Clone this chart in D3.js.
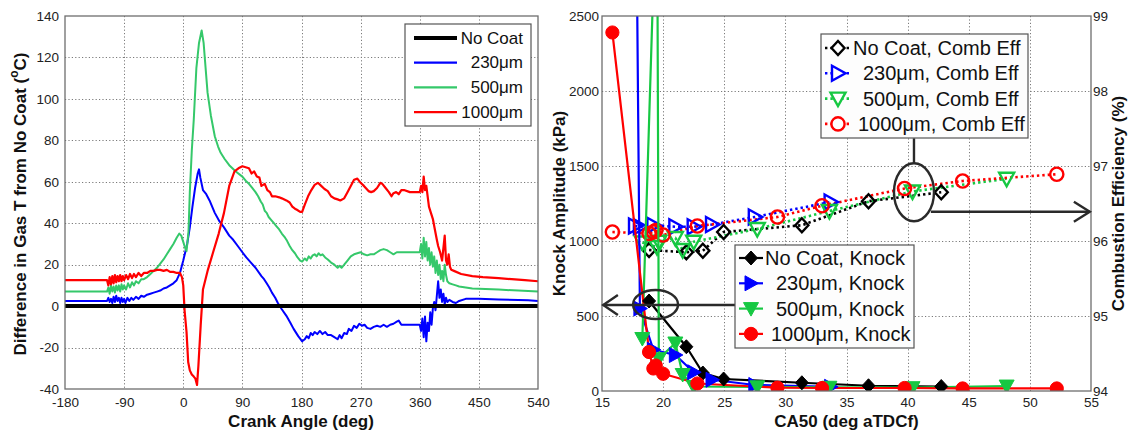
<!DOCTYPE html>
<html><head><meta charset="utf-8">
<script src="https://cdn.jsdelivr.net/npm/d3@7"></script>
<style>
html,body{margin:0;padding:0;background:#fff;}
svg{display:block;font-family:"Liberation Sans",Arial,Helvetica,sans-serif;}
</style></head><body>
<svg id="fig" width="1130" height="431"></svg>
<script>
// ---------- Left panel: gas temperature difference vs crank angle ----------
const angleTicks = [-180, -90, 0, 90, 180, 270, 360, 450, 540];
const dTempTicks = [-40, -20, 0, 20, 40, 60, 80, 100, 120, 140];
const coatNames = ["No Coat", "230\u03bcm", "500\u03bcm", "1000\u03bcm"];

const dT_noCoat = [[-180, 0], [540, 0]];

const dT_230 = [[-180,2.5],[-116,2.5],[-114,4],[-112,2],[-110,3.5],[-108,1.5],[-106,4.5],[-104,2],[-102,5],[-100,2.5],[-98,4],[-96,1.5],[-94,4],[-92,2],[-90,3.5],[-88,1.5],[-85,4],[-82,2.5],[-79,4],[-76,3],[-72,4.5],[-68,3.5],[-64,5],[-60,4.5],[-55,5.5],[-50,6],[-45,6.5],[-40,7],[-35,7.5],[-30,8.5],[-25,9],[-20,10],[-15,11],[-10,12.5],[-5,16],[0,22],[3,26],[6,30],[10,38],[14,48],[18,57],[22,64],[24,66],[26,62],[30,56],[35,54],[40,51],[48,45],[55,41],[62,38],[70,34],[76,32],[83,29],[90,26],[96,23.5],[103,21],[110,18.5],[119,14.5],[123,13],[127,11],[131,9],[135,6.5],[140,4],[144,1.5],[150,-1.5],[157,-4.7],[163,-8],[168,-11],[175,-14.5],[181,-17],[185,-16],[188,-14.5],[191,-15.5],[194,-13],[197,-14],[200,-12.5],[204,-13.5],[208,-12],[212,-13.5],[216,-12.5],[220,-14],[225,-14],[230,-15],[235,-16],[238,-14],[241,-15.5],[245,-13],[249,-13.5],[252,-11],[256,-12],[260,-9.5],[264,-10.5],[268,-8.5],[272,-9.5],[276,-9],[280,-10.5],[285,-11],[290,-10],[295,-9.5],[300,-10],[305,-9],[310,-10],[315,-9],[320,-8.5],[325,-7.5],[328,-7],[332,-9],[340,-9],[350,-9],[360,-9],[362,-12],[364,-6],[366,-15],[368,-5],[370,-17],[372,-8],[374,-12],[376,-3],[378,-9],[380,-1],[382,2],[384,-2],[386,5],[388,12],[390,4],[392,8],[394,2],[396,6],[398,1],[400,4],[402,2],[405,3],[410,2],[415,1.5],[420,2.5],[430,3.5],[450,3.5],[480,3.2],[510,3],[525,2.8],[540,2.5]];

const dT_500 = [[-180,7],[-116,7],[-114,9],[-112,6],[-110,10],[-108,7],[-106,9.5],[-104,6.5],[-102,10],[-100,7.5],[-98,10],[-96,7],[-94,10.5],[-92,8],[-90,10],[-87,8],[-84,11],[-81,9],[-78,11.5],[-75,10],[-72,12],[-68,11],[-64,13],[-60,13],[-55,14],[-50,15.5],[-45,17],[-40,18.5],[-35,20.5],[-30,22.5],[-25,25],[-20,27.5],[-15,30],[-10,33],[-6,35],[-3,34],[0,31],[3,28],[5,26.5],[8,36],[10,55],[13,75],[16,90],[20,115],[24,127],[28,133],[31,127],[34,115],[37,103],[42,92],[48,82],[53,77],[57,74],[63,71],[70,68],[80,65],[90,62.5],[95,60.5],[100,59],[105,57],[110,55],[114,53],[118,50.5],[121,49],[124,46],[127,45],[130,43],[134,41.5],[138,40],[142,38.5],[146,37],[150,35],[155,33],[158,31.5],[162,29],[166,27],[170,25.5],[174,23.5],[178,22],[181,21.5],[185,23],[188,22],[191,24],[194,23],[197,24.5],[200,25],[203,24],[206,25.5],[209,24.5],[212,25],[216,23.5],[220,22.5],[225,21],[230,20],[235,18.5],[238,19.5],[241,18.5],[245,20],[250,22],[255,24],[260,25],[265,25.5],[270,26],[275,25],[280,24.5],[285,25],[290,25],[295,26],[300,27],[305,27.5],[310,27],[315,26],[320,25],[325,26],[330,26],[340,26],[350,26],[360,26],[362,30],[364,23],[366,33],[368,24],[370,31],[372,22],[374,28],[376,20],[378,26],[380,19],[382,24],[384,16],[386,22],[388,15],[390,20],[392,13],[394,17],[396,12],[398,20],[400,15],[402,12],[405,11],[410,10.5],[415,10],[420,9.5],[430,9],[440,8.5],[460,8.2],[480,8],[510,7.5],[540,7]];

const dT_1000 = [[-180,12.5],[-116,12.5],[-114,10],[-112,14],[-110,10.5],[-108,14.5],[-106,11],[-104,15],[-102,11.5],[-100,14.5],[-98,12],[-96,15],[-94,12],[-92,14.5],[-90,12.5],[-87,15],[-84,13],[-81,15.5],[-78,13.5],[-75,15.5],[-72,14],[-68,16],[-64,14.5],[-60,16],[-55,16],[-50,17],[-45,17],[-40,17.5],[-35,17.5],[-30,17],[-25,17.5],[-20,16.5],[-15,16.5],[-10,16],[-5,16],[-2,14],[0,10],[2,-2],[5,-12.5],[7.5,-27],[10,-31],[13,-33],[16,-34],[18.5,-35],[21,-38],[23,-29],[26.5,-9.5],[30,8],[37.5,17.5],[45,25.5],[54,35],[62,45],[70,58],[78,65],[84,66.5],[90,67.5],[95,67],[100,66.5],[104,64],[108,65],[112,62.5],[116,62],[119,58],[124,59],[128,56],[132,55],[135,53],[140,53],[146,52.5],[150,52],[157,51],[162,50],[166,48],[170,47],[173,46.5],[178,45.5],[181,45.5],[185,49],[190,53],[195,56],[200,58.5],[205,59.5],[210,58],[215,56.5],[220,55.5],[225,53],[230,52],[235,51.5],[239,51],[245,52],[250,55],[255,58],[260,61],[265,61.5],[270,59.5],[275,58],[282,55.5],[286,55],[290,55.5],[295,57],[300,59.5],[303,59],[308,57],[313,55],[317,53],[320,54.5],[324,55],[328,54],[332,56],[336,56],[345,55],[360,55],[362,58],[364,55],[366,62.5],[368,56],[370,58],[374,48],[377,45],[380,42],[383,37],[386,32],[388,29],[391,26],[394,22],[396,28],[398,34],[400,22],[402,20],[404,25],[406,19],[408,17.5],[412,17],[423,15.5],[440,14.5],[456,14],[480,13.5],[500,13],[520,12.5],[540,12]];

// ---------- Right panel: knock amplitude and combustion efficiency vs CA50 ----------
const ca50Ticks = [15, 20, 25, 30, 35, 40, 45, 50, 55];
const knockTicks = [0, 500, 1000, 1500, 2000, 2500];
const effTicks = [94, 95, 96, 97, 98, 99];

const ca50_noCoat = [18.85, 21.9, 23.25, 24.95, 31.35, 36.8, 42.75];
const knock_noCoat = [600, 295, 120, 80, 55, 35, 30];
const eff_noCoat = [95.88, 95.85, 95.87, 96.12, 96.21, 96.53, 96.65];

const ca50_230 = [17.7, 18.1, 19.2, 21.0, 22.5, 24.0, 27.5, 33.7];
const knock_230 = [4200, 550, 275, 240, 125, 75, 40, 28];
const eff_230 = [96.2, 96.19, 96.21, 96.19, 96.19, 96.22, 96.32, 96.52];

const ca50_500 = [18.3, 19.5, 19.65, 21.0, 21.6, 22.5, 27.7, 33.6, 40.4, 48.1];
const knock_500 = [350, 3500, 215, 320, 110, 30, 28, 25, 22, 33];
const eff_500 = [95.98, 95.92, 95.99, 96.04, 95.88, 95.99, 96.16, 96.40, 96.66, 96.83];

const ca50_1000 = [15.85, 18.85, 19.2, 19.4, 20.0, 22.8, 29.35, 33.0, 39.75, 44.5, 52.2];
const knock_1000 = [2390, 260, 150, 170, 115, 50, 22, 20, 20, 17, 17];
const eff_1000 = [96.12, 96.1, 96.12, 96.14, 96.08, 96.2, 96.32, 96.47, 96.7, 96.8, 96.89];

const effLegend = ["No Coat, Comb Eff", "230\u03bcm, Comb Eff", "500\u03bcm, Comb Eff", "1000\u03bcm, Comb Eff"];
const knockLegend = ["No Coat, Knock", "230\u03bcm, Knock", "500\u03bcm, Knock", "1000\u03bcm, Knock"];

// ---------- styling ----------
const leftColors = ["#000000", "#0000ff", "#35c86a", "#ff0000"];
const rightColors = ["#000000", "#0000ff", "#16c842", "#ff0000"];
const FONT_TICK = 13.5;
const FONT_TITLE = 17;

const svg = d3.select("#fig");

function drawFrame(g, x, y, xt, yt) {
  const [x0, x1] = x.range();
  const [y1, y0] = y.range();
  const grid = g.append("g").attr("stroke", "#7a7a7a").attr("stroke-width", 1)
    .attr("stroke-dasharray", "1.2,2.2").attr("fill", "none");
  xt.slice(1, -1).forEach(t => grid.append("line")
    .attr("x1", Math.round(x(t)) + 0.5).attr("x2", Math.round(x(t)) + 0.5)
    .attr("y1", y0).attr("y2", y1));
  yt.slice(1, -1).forEach(t => grid.append("line")
    .attr("x1", x0).attr("x2", x1)
    .attr("y1", Math.round(y(t)) + 0.5).attr("y2", Math.round(y(t)) + 0.5));
}

function drawBox(g, x, y) {
  const [x0, x1] = x.range();
  const [y1, y0] = y.range();
  g.append("rect").attr("x", x0).attr("y", y0).attr("width", x1 - x0).attr("height", y1 - y0)
    .attr("fill", "none").attr("stroke", "#6e6e6e").attr("stroke-width", 1.3);
}

function styleAxis(sel) {
  sel.attr("font-family", null).attr("font-size", FONT_TICK);
  sel.select(".domain").remove();
  sel.selectAll(".tick line").remove();
  sel.selectAll("text").attr("fill", "#222");
}

const fmt = d => String(d);

// ---------------- Left panel ----------------
const xL = d3.scaleLinear().domain([-180, 540]).range([65, 538]);
const yL = d3.scaleLinear().domain([-40, 140]).range([389, 16]);
const gL = svg.append("g");

drawFrame(gL, xL, yL, angleTicks, dTempTicks);

gL.append("g").attr("transform", "translate(0,389)")
  .call(d3.axisBottom(xL).tickValues(angleTicks).tickFormat(fmt).tickSize(0).tickPadding(8.4))
  .call(styleAxis);
gL.append("g").attr("transform", "translate(65,0)")
  .call(d3.axisLeft(yL).tickValues(dTempTicks).tickFormat(fmt).tickSize(0).tickPadding(6))
  .call(styleAxis);

const lineL = d3.line().x(d => xL(d[0])).y(d => yL(d[1]));
const leftSeries = [dT_noCoat, dT_230, dT_500, dT_1000];
const leftWidths = [4, 2, 2, 2.2];
// colored traces first, the No Coat baseline on top
[1, 2, 3, 0].forEach(i => {
  gL.append("path").datum(leftSeries[i]).attr("d", lineL)
    .attr("fill", "none").attr("stroke", leftColors[i]).attr("stroke-width", leftWidths[i])
    .attr("stroke-linejoin", "round");
});
drawBox(gL, xL, yL);

// left legend
const legL = gL.append("g");
legL.append("rect").attr("x", 405).attr("y", 24).attr("width", 126).attr("height", 102)
  .attr("fill", "#fff").attr("stroke", "#555").attr("stroke-width", 1.2);
coatNames.forEach((name, i) => {
  const yy = 38 + i * 24.7;
  legL.append("line").attr("x1", 414).attr("x2", 457).attr("y1", yy).attr("y2", yy)
    .attr("stroke", leftColors[i]).attr("stroke-width", i === 0 ? 4 : 2.2);
  legL.append("text").attr("x", 523).attr("y", yy).attr("text-anchor", "end")
    .attr("dominant-baseline", "central").attr("font-size", 17).attr("fill", "#111").text(name);
});

// left titles
gL.append("text").attr("x", 301).attr("y", 427).attr("text-anchor", "middle")
  .attr("font-size", FONT_TITLE).attr("font-weight", "bold").attr("fill", "#111")
  .text("Crank Angle (deg)");
const tY = gL.append("text").attr("transform", "translate(20,204) rotate(-90)")
  .attr("text-anchor", "middle").attr("dominant-baseline", "central")
  .attr("font-size", FONT_TITLE).attr("font-weight", "bold").attr("fill", "#111");
tY.append("tspan").text("Difference in Gas T from No Coat (");
tY.append("tspan").attr("dy", -6).attr("font-size", 12).text("o");
tY.append("tspan").attr("dy", 6).text("C)");

// ---------------- Right panel ----------------
const xR = d3.scaleLinear().domain([15, 55]).range([602, 1091]);
const yK = d3.scaleLinear().domain([0, 2500]).range([391, 16]);
const yE = d3.scaleLinear().domain([94, 99]).range([391, 16]);
const gR = svg.append("g");

drawFrame(gR, xR, yK, ca50Ticks, knockTicks);

gR.append("g").attr("transform", "translate(0,391)")
  .call(d3.axisBottom(xR).tickValues(ca50Ticks).tickFormat(fmt).tickSize(0).tickPadding(6.4))
  .call(styleAxis);
gR.append("g").attr("transform", "translate(602,0)")
  .call(d3.axisLeft(yK).tickValues(knockTicks).tickFormat(fmt).tickSize(0).tickPadding(3))
  .call(styleAxis);
gR.append("g").attr("transform", "translate(1091,0)")
  .call(d3.axisRight(yE).tickValues(effTicks).tickFormat(fmt).tickSize(0).tickPadding(2))
  .call(styleAxis);

svg.append("defs").append("clipPath").attr("id", "clipR")
  .append("rect").attr("x", 602).attr("y", 16).attr("width", 489).attr("height", 375);

// marker shapes
const shapes = {
  diamond: "M0,-7L6.5,0L0,7L-6.5,0Z",
  right: "M-6,-7.5L7.5,0L-6,7.5Z",
  down: "M-7.5,-6L7.5,-6L0,7.5Z",
  circle: d3.symbol(d3.symbolCircle, Math.PI * 6.6 * 6.6)()
};
const shapeOrder = ["diamond", "right", "down", "circle"];

function zipPts(xs, ys) { return xs.map((v, i) => [v, ys[i]]); }
const knockSets = [zipPts(ca50_noCoat, knock_noCoat), zipPts(ca50_230, knock_230),
                   zipPts(ca50_500, knock_500), zipPts(ca50_1000, knock_1000)];
const effSets = [zipPts(ca50_noCoat, eff_noCoat), zipPts(ca50_230, eff_230),
                 zipPts(ca50_500, eff_500), zipPts(ca50_1000, eff_1000)];

const plotR = gR.append("g").attr("clip-path", "url(#clipR)");
const lineK = d3.line().x(d => xR(d[0])).y(d => yK(d[1]));
const lineE = d3.line().x(d => xR(d[0])).y(d => yE(d[1]));

// efficiency (dotted, open markers)
effSets.forEach((pts, i) => {
  plotR.append("path").datum(pts).attr("d", lineE).attr("fill", "none")
    .attr("stroke", rightColors[i]).attr("stroke-width", 2.6).attr("stroke-dasharray", "2.4,3");
});
effSets.forEach((pts, i) => {
  plotR.selectAll(null).data(pts).join("path")
    .attr("d", shapes[shapeOrder[i]])
    .attr("transform", d => `translate(${xR(d[0])},${yE(d[1])})`)
    .attr("fill", "none").attr("stroke", rightColors[i]).attr("stroke-width", 2.4);
});

// knock (solid, filled markers)
knockSets.forEach((pts, i) => {
  plotR.append("path").datum(pts).attr("d", lineK).attr("fill", "none")
    .attr("stroke", rightColors[i]).attr("stroke-width", 2.2).attr("stroke-linejoin", "round");
});
knockSets.forEach((pts, i) => {
  plotR.selectAll(null).data(pts).join("path")
    .attr("d", shapes[shapeOrder[i]])
    .attr("transform", d => `translate(${xR(d[0])},${yK(d[1])})`)
    .attr("fill", rightColors[i]).attr("stroke", rightColors[i]).attr("stroke-width", 1);
});

drawBox(gR, xR, yK);

// annotation: ellipses with arrows pointing to each axis
const ann = gR.append("g").attr("fill", "none").attr("stroke", "#2a2a2a").attr("stroke-width", 2.4);
// knock group -> left axis
ann.append("ellipse").attr("cx", xR(19.38)).attr("cy", yK(577)).attr("rx", 22.5).attr("ry", 14.5);
ann.append("line").attr("x1", xR(15.1)).attr("x2", xR(25.9)).attr("y1", yK(573)).attr("y2", yK(573));
ann.append("polyline").attr("points",
  `${xR(16.3)},${yK(573) - 10} ${xR(15.1)},${yK(573)} ${xR(16.3)},${yK(573) + 10}`);
// efficiency group -> right axis
ann.append("ellipse").attr("cx", xR(40.52)).attr("cy", yE(96.65)).attr("rx", 20).attr("ry", 29);
ann.append("line").attr("x1", xR(40.52)).attr("x2", xR(40.52)).attr("y1", yE(97.04)).attr("y2", yE(97.37));
ann.append("line").attr("x1", xR(41.9)).attr("x2", xR(54.9)).attr("y1", yE(96.39)).attr("y2", yE(96.39));
ann.append("polyline").attr("points",
  `${xR(53.6)},${yE(96.39) - 10} ${xR(54.9)},${yE(96.39)} ${xR(53.6)},${yE(96.39) + 10}`);

// legends
function drawLegend(box, labels, firstY, step, sample, textX, dotted, filled) {
  const g = gR.append("g");
  g.append("rect").attr("x", box[0]).attr("y", box[1]).attr("width", box[2]).attr("height", box[3])
    .attr("fill", "#fdfdfd").attr("stroke", "#555").attr("stroke-width", 1.2);
  labels.forEach((lab, i) => {
    const yy = firstY + i * step;
    const ln = g.append("line").attr("x1", sample[0]).attr("x2", sample[1]).attr("y1", yy).attr("y2", yy)
      .attr("stroke", rightColors[i]).attr("stroke-width", dotted ? 2.6 : 2.2);
    if (dotted) ln.attr("stroke-dasharray", "2.4,3");
    g.append("path").attr("d", shapes[shapeOrder[i]])
      .attr("transform", `translate(${sample[2]},${yy})`)
      .attr("fill", filled ? rightColors[i] : "#fff").attr("stroke", rightColors[i])
      .attr("stroke-width", filled ? 1 : 2.4);
    g.append("text").attr("x", textX[i]).attr("y", yy).attr("dominant-baseline", "central")
      .attr("font-size", 20).attr("fill", "#111").text(lab);
  });
}
drawLegend([821, 34, 207, 104], effLegend, 48, 25.3, [825, 849, 838], [853, 863, 863, 858], true, false);
drawLegend([735, 245, 179, 103], knockLegend, 258, 25.3, [739, 763, 751], [765, 776, 776, 771], false, true);

// right titles
gR.append("text").attr("x", 846.5).attr("y", 427).attr("text-anchor", "middle")
  .attr("font-size", FONT_TITLE).attr("font-weight", "bold").attr("fill", "#111")
  .text("CA50 (deg aTDCf)");
gR.append("text").attr("transform", "translate(559,203.5) rotate(-90)")
  .attr("text-anchor", "middle").attr("dominant-baseline", "central")
  .attr("font-size", FONT_TITLE).attr("font-weight", "bold").attr("fill", "#111")
  .text("Knock Amplitude (kPa)");
gR.append("text").attr("transform", "translate(1118,203.5) rotate(-90)")
  .attr("text-anchor", "middle").attr("dominant-baseline", "central")
  .attr("font-size", FONT_TITLE).attr("font-weight", "bold").attr("fill", "#111")
  .text("Combustion Efficiency (%)");
</script>
</body></html>
